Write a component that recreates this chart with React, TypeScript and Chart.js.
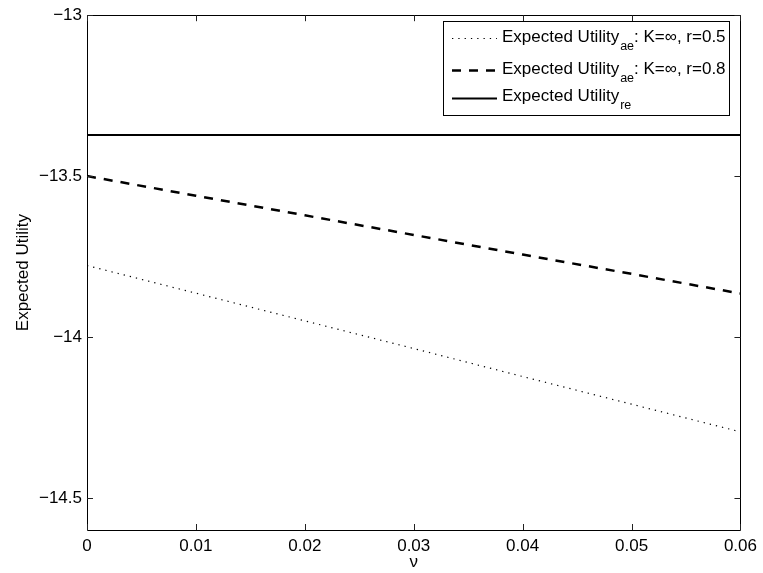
import React, { useEffect, useRef } from "react";
import { Chart, registerables } from "chart.js";

Chart.register(...registerables);

const FONT = "'Liberation Sans', Arial, Helvetica, sans-serif";

const nuValues = [0, 0.01, 0.02, 0.03, 0.04, 0.05, 0.06];
const euAeR05 = [-13.778, -13.864, -13.95, -14.036, -14.123, -14.209, -14.295];
const euAeR08 = [-13.5, -13.561, -13.622, -13.683, -13.744, -13.804, -13.865];
const euRe = [-13.372, -13.372, -13.372, -13.372, -13.372, -13.372, -13.372];

const xTicks = [0, 0.01, 0.02, 0.03, 0.04, 0.05, 0.06];
const yTicks = [-14.5, -14, -13.5, -13];

const legendMain = ["Expected Utility", "Expected Utility", "Expected Utility"];
const legendSub = ["ae", "ae", "re"];
const legendRest = [": K=∞, r=0.5", ": K=∞, r=0.8", ""];

const boxPlugin = {
  id: "matlabBox",
  afterDatasetsDraw(chart: any) {
    const { ctx, chartArea } = chart;
    const { left, right, top, bottom } = chartArea;
    const xs = chart.scales.x;
    const ys = chart.scales.y;
    ctx.save();
    ctx.strokeStyle = "#000";
    ctx.lineWidth = 1;
    ctx.setLineDash([]);
    ctx.beginPath();
    ctx.rect(Math.round(left) + 0.5, Math.round(top) + 0.5, Math.round(right - left), Math.round(bottom - top));
    ctx.stroke();
    ctx.strokeStyle = "#222";
    ctx.beginPath();
    xTicks.forEach((v) => {
      const px = Math.round(xs.getPixelForValue(v)) + 0.5;
      ctx.moveTo(px, bottom);
      ctx.lineTo(px, bottom - 6);
      ctx.moveTo(px, top);
      ctx.lineTo(px, top + 6);
    });
    yTicks.forEach((v) => {
      const py = Math.round(ys.getPixelForValue(v)) + 0.5;
      ctx.moveTo(left, py);
      ctx.lineTo(left + 6, py);
      ctx.moveTo(right, py);
      ctx.lineTo(right - 6, py);
    });
    ctx.stroke();
    ctx.restore();
  },
  afterDraw(chart: any) {
    const { ctx } = chart;
    ctx.save();
    ctx.fillStyle = "#fff";
    ctx.fillRect(443, 21, 287, 95);
    ctx.strokeStyle = "#000";
    ctx.lineWidth = 1;
    ctx.setLineDash([]);
    ctx.strokeRect(443.5, 21.5, 286, 94);
    const lineYs = [38, 70, 98];
    const baselines = [42, 74, 101];
    const styles = [
      { w: 1.2, dash: [1.3, 5] },
      { w: 2.5, dash: [9, 8] },
      { w: 2, dash: [] as number[] },
    ];
    for (let i = 0; i < 3; i++) {
      ctx.strokeStyle = "#000";
      ctx.lineWidth = styles[i].w;
      ctx.setLineDash(styles[i].dash);
      ctx.beginPath();
      ctx.moveTo(452, lineYs[i] + 0.5);
      ctx.lineTo(497, lineYs[i] + 0.5);
      ctx.stroke();
      ctx.setLineDash([]);
      ctx.fillStyle = "#000";
      ctx.textBaseline = "alphabetic";
      ctx.textAlign = "left";
      const b = baselines[i];
      let x = 502;
      ctx.font = `17px ${FONT}`;
      ctx.fillText(legendMain[i], x, b);
      x += ctx.measureText(legendMain[i]).width + 1;
      ctx.font = `12.5px ${FONT}`;
      ctx.fillText(legendSub[i], x, b + 8);
      x += ctx.measureText(legendSub[i]).width;
      if (legendRest[i]) {
        ctx.font = `17px ${FONT}`;
        ctx.fillText(legendRest[i], x, b);
      }
    }
    ctx.restore();
  },
};

export default function App() {
  const ref = useRef<HTMLCanvasElement | null>(null);
  useEffect(() => {
    document.body.style.margin = "0";
    if (!ref.current) return;
    const toPts = (ys: number[]) => nuValues.map((x, i) => ({ x, y: ys[i] }));
    const chart = new Chart(ref.current, {
      type: "line",
      data: {
        datasets: [
          {
            label: "r=0.5",
            data: toPts(euAeR05),
            borderColor: "#000",
            borderWidth: 1.2,
            borderDash: [1.3, 5],
            pointRadius: 0,
            fill: false,
          },
          {
            label: "r=0.8",
            data: toPts(euAeR08),
            borderColor: "#000",
            borderWidth: 2.5,
            borderDash: [9, 8],
            pointRadius: 0,
            fill: false,
          },
          {
            label: "re",
            data: toPts(euRe),
            borderColor: "#000",
            borderWidth: 2,
            pointRadius: 0,
            fill: false,
          },
        ],
      },
      options: {
        responsive: false,
        animation: false,
        events: [],
        layout: { padding: { top: 14, right: 21, left: 0, bottom: 0 } },
        plugins: {
          legend: { display: false },
          tooltip: { enabled: false },
        },
        scales: {
          x: {
            type: "linear",
            min: 0,
            max: 0.06,
            afterBuildTicks: (s: any) => {
              s.ticks = xTicks.map((v) => ({ value: v }));
            },
            afterFit: (s: any) => {
              s.height = 43;
            },
            grid: { display: false, drawTicks: false },
            border: { display: false },
            ticks: {
              padding: 6,
              color: "#000",
              maxRotation: 0,
              autoSkip: false,
              font: { family: FONT, size: 17 },
              callback: (v: any) => (Number(v) === 0 ? "0" : Number(v).toFixed(2)),
            },
            title: {
              display: true,
              text: "ν",
              color: "#000",
              font: { family: FONT, size: 17 },
              padding: { top: 0, bottom: 0 },
            },
          },
          y: {
            type: "linear",
            min: -14.6,
            max: -13,
            afterBuildTicks: (s: any) => {
              s.ticks = yTicks.map((v) => ({ value: v }));
            },
            afterFit: (s: any) => {
              s.width = 87;
            },
            grid: { display: false, drawTicks: false },
            border: { display: false },
            ticks: {
              padding: 5,
              color: "#000",
              autoSkip: false,
              font: { family: FONT, size: 17 },
              callback: (v: any) => String(v).replace("-", "\u2212"),
            },
            title: {
              display: true,
              text: "Expected Utility",
              color: "#000",
              font: { family: FONT, size: 17 },
              padding: { top: 13, bottom: 0 },
            },
          },
        },
      },
      plugins: [boxPlugin],
    } as any);
    return () => chart.destroy();
  }, []);
  return (
    <canvas
      ref={ref}
      width={763}
      height={573}
      style={{ display: "block", width: 763, height: 573, background: "#fff" }}
    />
  );
}
